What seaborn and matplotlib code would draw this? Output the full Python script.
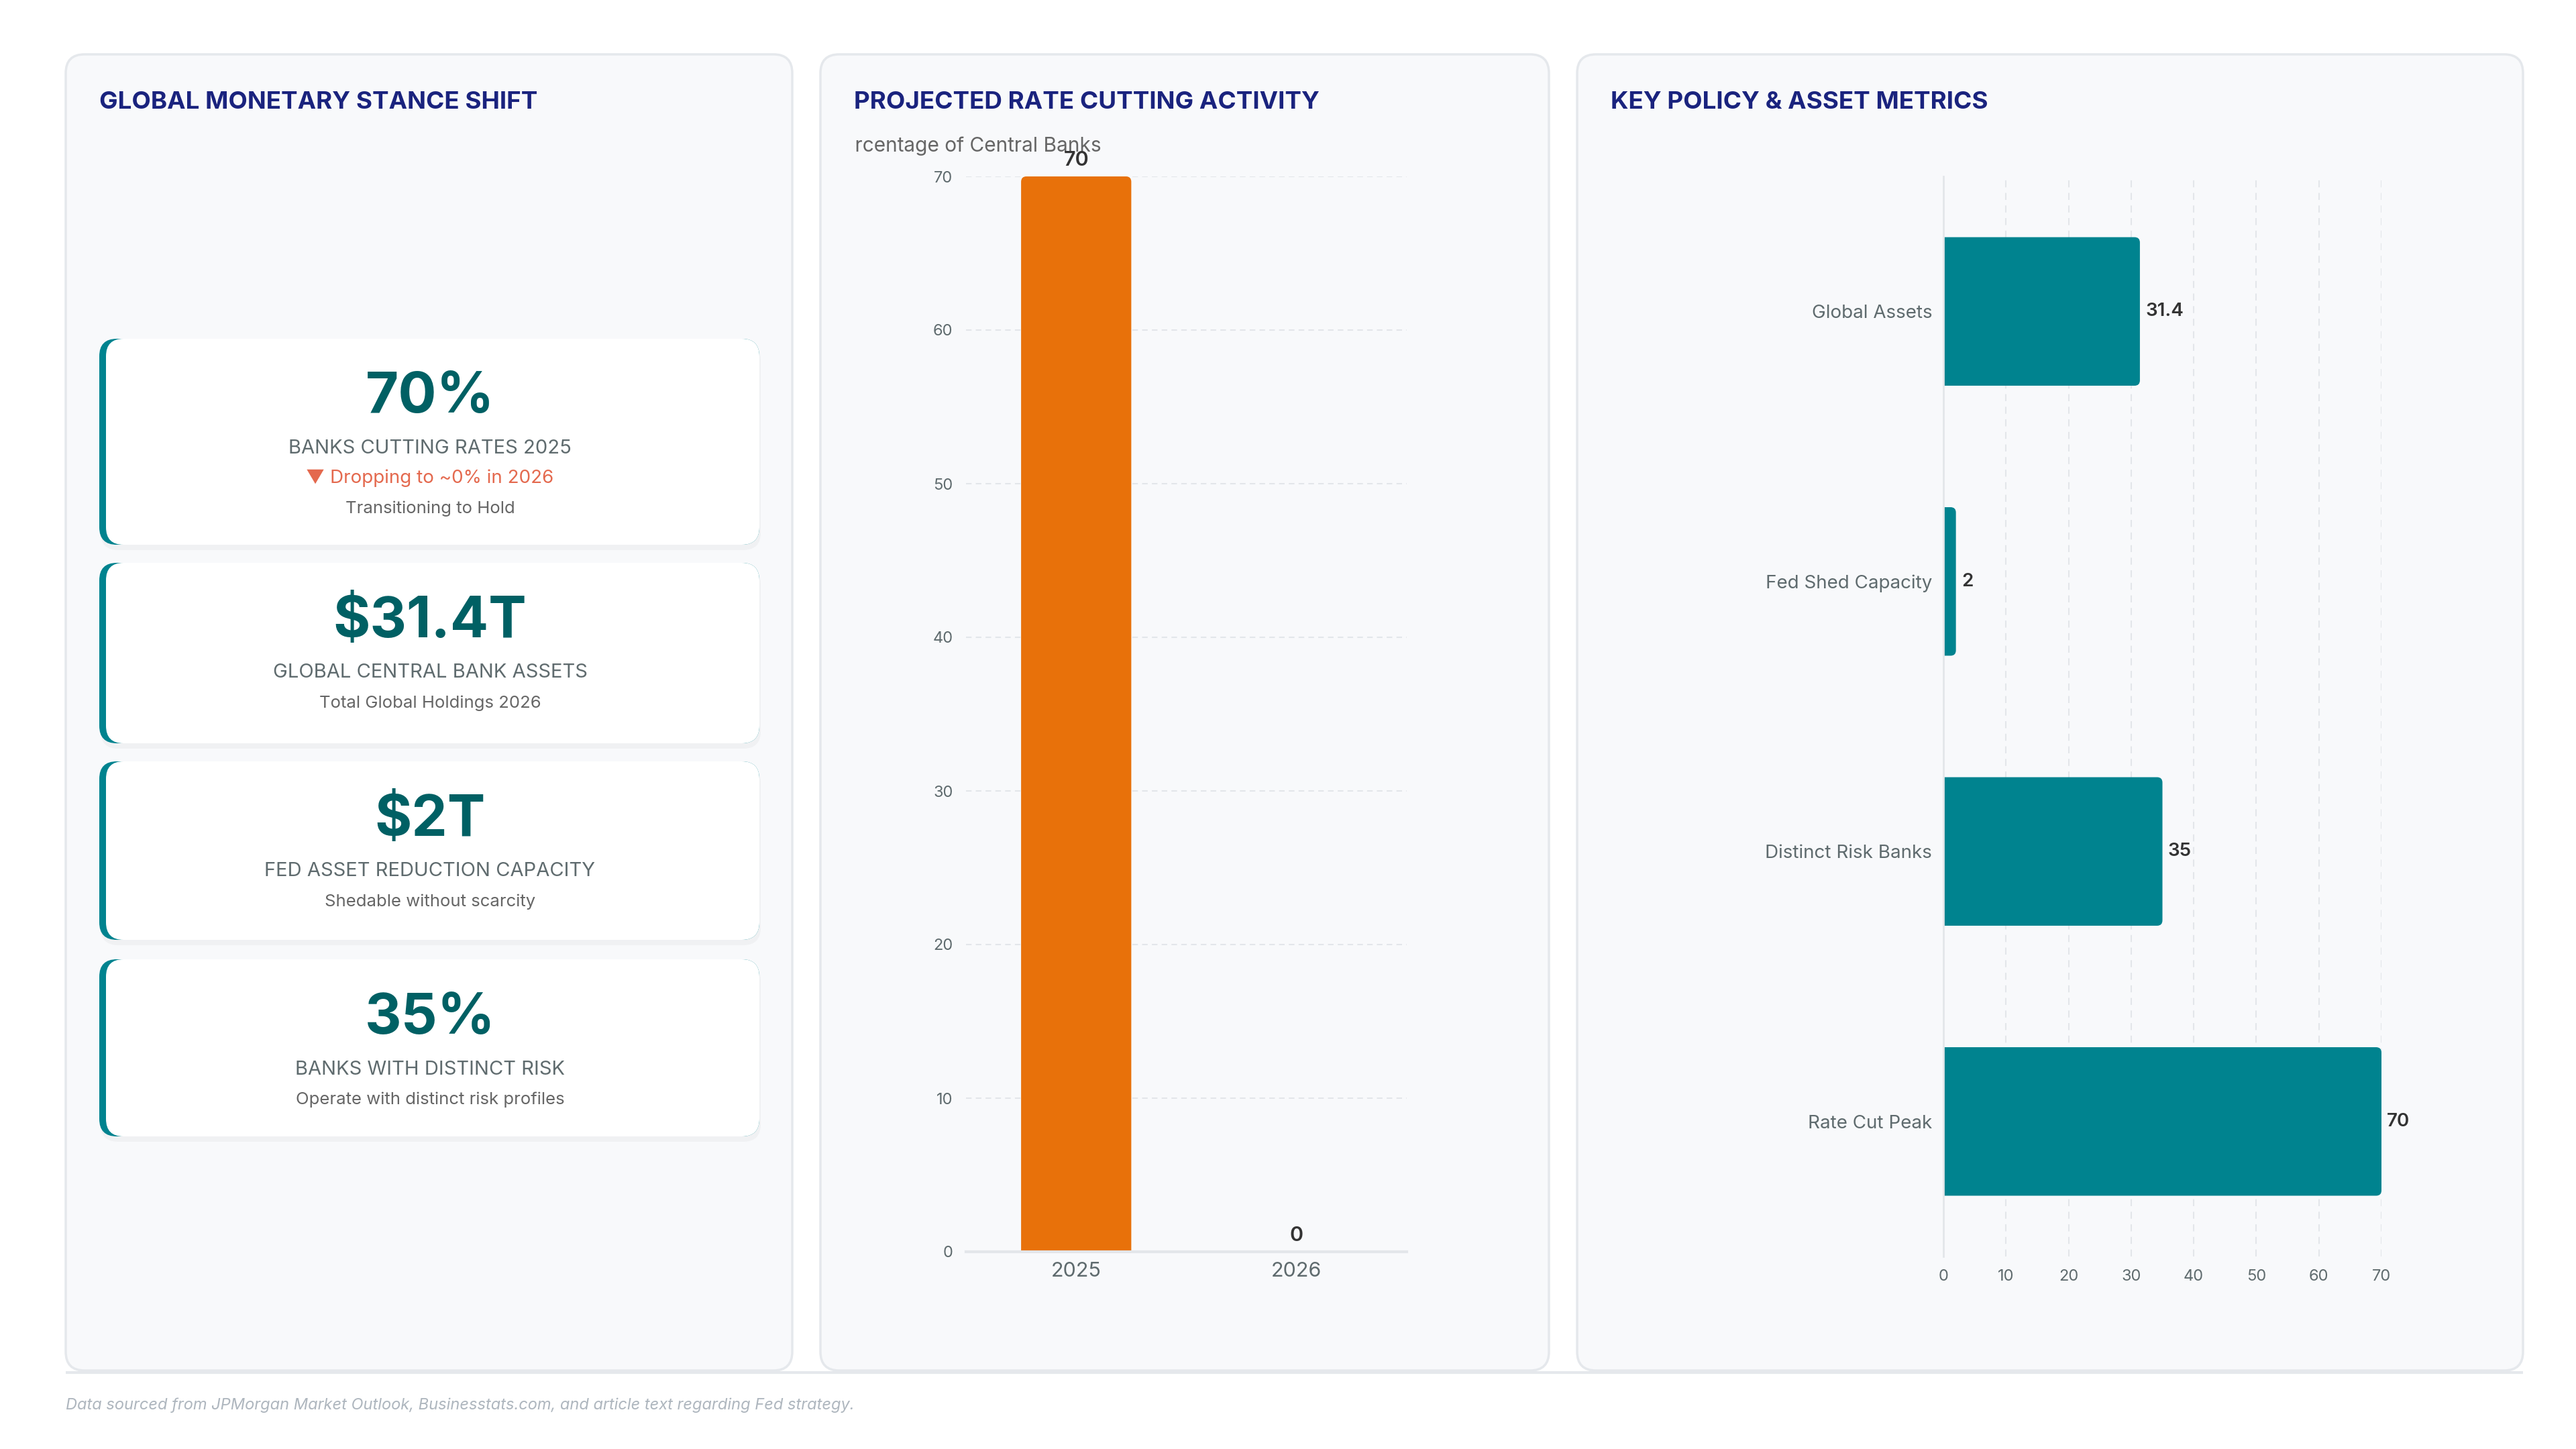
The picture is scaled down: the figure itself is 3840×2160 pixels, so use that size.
import matplotlib
matplotlib.use('Agg')
import matplotlib.pyplot as plt
from matplotlib.patches import FancyBboxPatch, Rectangle
import seaborn as sns
import pandas as pd

# chart data
years = ['2025', '2026']
cut_pct = [70, 0]

metric_labels = ['Global Assets', 'Fed Shed Capacity', 'Distinct Risk Banks', 'Rate Cut Peak']
metric_values = [31.4, 2, 35, 70]

# KPI cards
card_values = ['70%', '$31.4T', '$2T', '35%']
card_titles = ['BANKS CUTTING RATES 2025', 'GLOBAL CENTRAL BANK ASSETS',
               'FED ASSET REDUCTION CAPACITY', 'BANKS WITH DISTINCT RISK']
card_notes = ['▼ Dropping to ~0% in 2026', None, None, None]
card_subs = ['Transitioning to Hold', 'Total Global Holdings 2026',
             'Shedable without scarcity', 'Operate with distinct risk profiles']

TEAL = '#00838f'
DARK_TEAL = '#006064'
ORANGE = '#e8710a'
NAVY = '#1a237e'
GRAY = '#5f6b6e'
PANEL_BG = '#f8f9fb'
BORDER = '#e5e8ec'

W, H = 3840, 2160

sns.set_theme(style='white')
plt.rcParams['font.family'] = ['Inter', 'DejaVu Sans']

fig = plt.figure(figsize=(38.4, 21.6), dpi=100, facecolor='white')

# background layer in pixel coordinates
bg = fig.add_axes([0, 0, 1, 1], zorder=-5)
bg.set_xlim(0, W)
bg.set_ylim(H, 0)
bg.axis('off')


def rbox(x0, y0, x1, y1, r, **kw):
    p = FancyBboxPatch((x0, y0), x1 - x0, y1 - y0,
                       boxstyle=f'round,pad=0,rounding_size={r}', **kw)
    bg.add_patch(p)
    return p


def px_axes(x0, y0, x1, y1):
    ax = fig.add_axes([x0 / W, 1 - y1 / H, (x1 - x0) / W, (y1 - y0) / H])
    ax.set_facecolor('none')
    return ax


def round_bars(ax, width_px, height_px, vertical, radius=8):
    """Swap the seaborn bars for ones with rounded ends (base stays square)."""
    x0, x1 = ax.get_xlim()
    y0, y1 = ax.get_ylim()
    ux = abs(x1 - x0) / width_px
    uy = abs(y1 - y0) / height_px
    for p in list(ax.patches):
        x, y, w, h = p.get_x(), p.get_y(), p.get_width(), p.get_height()
        if (h if vertical else w) <= 0:
            continue
        if vertical:
            y, h = y - radius * uy, h + radius * uy
        else:
            x, w = x - radius * ux, w + radius * ux
        nb = FancyBboxPatch((x, y), w, h,
                            boxstyle=f'round,pad=0,rounding_size={radius * ux}',
                            mutation_aspect=uy / ux, facecolor=p.get_facecolor(),
                            edgecolor='none', zorder=p.get_zorder())
        p.remove()
        ax.add_patch(nb)


# panels
panels = [(98, 1181), (1223, 2309), (2351, 3761)]
titles = ['GLOBAL MONETARY STANCE SHIFT', 'PROJECTED RATE CUTTING ACTIVITY',
          'KEY POLICY & ASSET METRICS']
for (x0, x1), t in zip(panels, titles):
    rbox(x0, 81, x1, 2043, 28, facecolor=PANEL_BG, edgecolor=BORDER, linewidth=2.5)
    bg.text(x0 + 50, 153, t, color=NAVY, fontsize=26.5, fontweight='bold',
            va='center', ha='left')
bg.plot([98, 3761], [2046, 2046], color=BORDER, linewidth=3, solid_capstyle='butt')

# KPI cards
card_y = [(505, 812), (839, 1108), (1135, 1401), (1430, 1694)]
for i, (y0, y1) in enumerate(card_y):
    rbox(150, y0 + 6, 1134, y1 + 8, 26, facecolor='#000000', alpha=0.03,
         edgecolor='none')
    rbox(148, y0, 1132, y1, 26, facecolor=TEAL, edgecolor='none')
    rbox(158, y0, 1132, y1, 26, facecolor='white', edgecolor='none')
    cx = 641
    top = y0 + 88
    bg.text(cx, top, card_values[i], color=DARK_TEAL, fontsize=61,
            fontweight='bold', ha='center', va='center')
    bg.text(cx, top + 76, card_titles[i], color=GRAY, fontsize=21,
            ha='center', va='center')
    sub_y = top + 121
    if card_notes[i]:
        bg.text(cx, top + 120, card_notes[i], color='#e4694e', fontsize=20,
                ha='center', va='center')
        sub_y = top + 165
    bg.text(cx, sub_y, card_subs[i], color='#666666', fontsize=18.5,
            ha='center', va='center')

# chart 2: projected rate cutting activity
ax2 = px_axes(1440, 263, 2097, 1866)
sns.barplot(x=years, y=cut_pct, color=ORANGE, width=0.5, saturation=1, ax=ax2)
ax2.set_ylim(0, 70)
ax2.set_yticks(range(0, 71, 10))
ax2.grid(axis='y', color='#e3e6ea', linestyle=(0, (4, 3)), linewidth=1.5)
ax2.set_axisbelow(True)
for s in ['top', 'right', 'left']:
    ax2.spines[s].set_visible(False)
ax2.spines['bottom'].set_color('#e3e6ea')
ax2.spines['bottom'].set_linewidth(3)
ax2.tick_params(axis='y', length=0, pad=14, labelsize=17, labelcolor=GRAY)
ax2.tick_params(axis='x', length=0, pad=11, labelsize=22, labelcolor=GRAY)
ax2.set_xlabel('')
ax2.set_ylabel('')
for c in ax2.containers:
    ax2.bar_label(c, labels=[f'{v:g}' for v in cut_pct], padding=7,
                  fontsize=22, color='#333333', fontweight='semibold')
round_bars(ax2, 2097 - 1440, 1866 - 263, vertical=True)
ylab = bg.text(1642, 218, 'Percentage of Central Banks', color='#666666',
               fontsize=21.5, ha='right', va='center')
ylab.set_clip_path(Rectangle((1273, 0), 1000, 500, transform=bg.transData))
ylab.set_clip_on(True)

# chart 3: key policy & asset metrics
ax3 = px_axes(2897, 263, 3550, 1873)
sns.barplot(x=metric_values, y=metric_labels, orient='h', color=TEAL,
            width=0.55, saturation=1, ax=ax3)
ax3.set_xlim(0, 70)
ax3.set_xticks(range(0, 71, 10))
ax3.grid(axis='x', color='#e3e6ea', linestyle=(0, (5, 4)), linewidth=1.5)
ax3.set_axisbelow(True)
for s in ['top', 'right', 'bottom']:
    ax3.spines[s].set_visible(False)
ax3.spines['left'].set_color('#e3e6ea')
ax3.spines['left'].set_linewidth(2)
ax3.tick_params(axis='y', length=0, pad=12, labelsize=20, labelcolor=GRAY)
ax3.tick_params(axis='x', length=0, pad=14, labelsize=17, labelcolor=GRAY)
ax3.set_xlabel('')
ax3.set_ylabel('')
for c in ax3.containers:
    ax3.bar_label(c, labels=[f'{v:g}' for v in metric_values], padding=6,
                  fontsize=20, color='#333333', fontweight='semibold')
round_bars(ax3, 3550 - 2897, 1873 - 263, vertical=False)

# footer
bg.text(98, 2095, 'Data sourced from JPMorgan Market Outlook, Businesstats.com, '
        'and article text regarding Fed strategy.', color='#aeb6be',
        fontsize=17, style='italic', ha='left', va='center')

fig.savefig('out.png', dpi=100, facecolor='white')
